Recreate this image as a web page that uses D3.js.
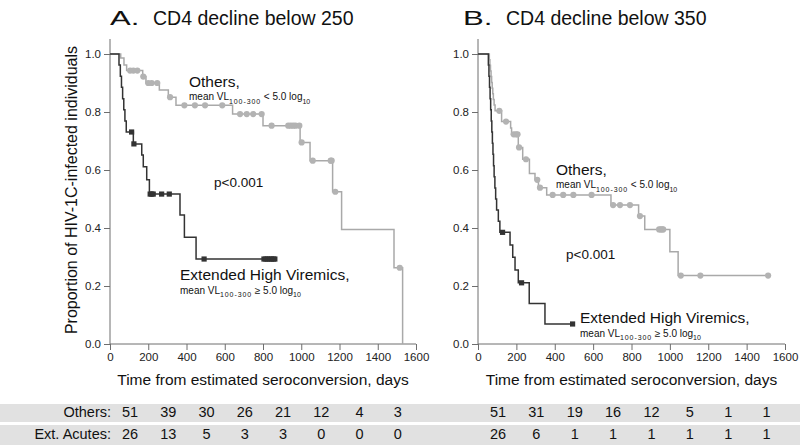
<!DOCTYPE html>
<html><head><meta charset="utf-8">
<script src="https://cdn.jsdelivr.net/npm/d3@7"></script>
<style>
body{margin:0;background:#fff}
svg{display:block;font-family:"Liberation Sans",Arial,Helvetica,sans-serif}
</style>
</head><body>
<svg id="chart" width="800" height="445"></svg>
<script>
// ---------- DATA ----------
const xTicks = [0, 200, 400, 600, 800, 1000, 1200, 1400, 1600];
const yTicks = [0, 0.2, 0.4, 0.6, 0.8, 1.0];
const riskTimes = [0, 200, 400, 600, 800, 1000, 1200, 1400];
const rowLabels = ["Others:", "Ext. Acutes:"];
const riskA_others = [51, 39, 30, 26, 21, 12, 4, 3];
const riskA_ext = [26, 13, 5, 3, 3, 0, 0, 0];
const riskB_others = [51, 31, 19, 16, 12, 5, 1, 1];
const riskB_ext = [26, 6, 1, 1, 1, 1, 1, 1];

// Panel A: CD4 decline below 250
const aOthersTimes = [56, 73, 87, 171, 188, 258, 305, 345, 641, 800, 994, 1046, 1164, 1211, 1485, 1530];
const aOthersSurv = [0.986, 0.962, 0.943, 0.922, 0.900, 0.876, 0.851, 0.823, 0.793, 0.753, 0.695, 0.632, 0.525, 0.395, 0.263, 0.0];
const aOthersCensored = [105, 122, 143, 174, 200, 218, 247, 314, 389, 444, 497, 587, 680, 715, 749, 793, 845, 932, 945, 958, 970, 990, 1002, 1060, 1154, 1159, 1178, 1515];
const aOthersEnd = 1530;

const aExtTimes = [47, 54, 60, 66, 72, 78, 85, 122, 166, 174, 192, 206, 366, 389, 450];
const aExtSurv = [0.962, 0.923, 0.885, 0.846, 0.808, 0.769, 0.731, 0.690, 0.652, 0.611, 0.566, 0.517, 0.445, 0.368, 0.293];
const aExtCensored = [113, 125, 210, 218, 226, 270, 310, 492, 805, 815, 825, 835, 845, 855, 862];
const aExtEnd = 862;

// Panel B: CD4 decline below 350
const bOthersTimes = [59, 62, 65, 68, 71, 74, 77, 80, 84, 89, 123, 170, 175, 210, 233, 268, 297, 315, 358, 693, 837, 869, 1000, 1043];
const bOthersSurv = [0.980, 0.961, 0.941, 0.922, 0.902, 0.882, 0.863, 0.843, 0.824, 0.804, 0.767, 0.745, 0.723, 0.678, 0.637, 0.588, 0.566, 0.539, 0.514, 0.479, 0.441, 0.395, 0.318, 0.236];
const bOthersCensored = [111, 146, 186, 198, 206, 214, 250, 309, 323, 389, 444, 497, 592, 704, 740, 792, 844, 944, 952, 960, 965, 1057, 1159, 1512];
const bOthersEnd = 1512;

const bExtTimes = [54, 57, 60, 63, 66, 69, 72, 75, 78, 81, 84, 88, 92, 97, 106, 114, 167, 181, 193, 210, 267, 349];
const bExtSurv = [0.962, 0.923, 0.885, 0.846, 0.808, 0.769, 0.731, 0.692, 0.654, 0.615, 0.577, 0.538, 0.500, 0.462, 0.423, 0.385, 0.341, 0.299, 0.255, 0.211, 0.140, 0.069];
const bExtCensored = [128, 227, 493];
const bExtEnd = 493;

// ---------- DRAWING ----------
const svg = d3.select("#chart");
const GRAY = "#a9a9a9", DARK = "#333333", AXIS = "#6e6e6e", TXT = "#111";
const yTop = 54, yBot = 344;

// table bands
svg.append("rect").attr("x", 0).attr("y", 404).attr("width", 800).attr("height", 18).attr("fill", "#e1e1e1");
svg.append("rect").attr("x", 0).attr("y", 425).attr("width", 800).attr("height", 20).attr("fill", "#e1e1e1");

rowLabels.forEach((lab, i) => {
  svg.append("text").attr("x", 111).attr("y", i === 0 ? 417 : 439)
    .attr("text-anchor", "end").attr("font-size", 14.5).attr("fill", TXT).text(lab);
});

const panels = [
  {x0: 110, x1: 416, letter: "A.", title: "CD4 decline below 250", titleX: 110,
   others: {t: aOthersTimes, s: aOthersSurv, c: aOthersCensored, end: aOthersEnd},
   ext: {t: aExtTimes, s: aExtSurv, c: aExtCensored, end: aExtEnd},
   risk: [riskA_others, riskA_ext],
   othersLbl: [189, 87], pLbl: [214, 187], extLbl: [180, 280]},
  {x0: 478, x1: 785, letter: "B.", title: "CD4 decline below 350", titleX: 463,
   others: {t: bOthersTimes, s: bOthersSurv, c: bOthersCensored, end: bOthersEnd},
   ext: {t: bExtTimes, s: bExtSurv, c: bExtCensored, end: bExtEnd},
   risk: [riskB_others, riskB_ext],
   othersLbl: [556, 175], pLbl: [566, 259], extLbl: [580, 323]}
];

function survAt(times, surv, t) {
  let s = 1;
  for (let i = 0; i < times.length; i++) if (times[i] <= t) s = surv[i];
  return s;
}

function subLine(g, x, y, rel, sym) {
  const t = g.append("text").attr("x", x).attr("y", y).attr("font-size", 10).attr("fill", TXT);
  t.append("tspan").text("mean VL");
  t.append("tspan").attr("font-size", 7).attr("dy", 3.5).attr("letter-spacing", 0.9).text("100-300");
  t.append("tspan").attr("dy", -3.5).text(" " + sym + " 5.0 log");
  t.append("tspan").attr("font-size", 7).attr("dy", 3.5).text("10");
}

panels.forEach(p => {
  const x = d3.scaleLinear().domain([0, 1600]).range([p.x0, p.x1]);
  const y = d3.scaleLinear().domain([0, 1]).range([yBot, yTop]);
  const g = svg.append("g");

  // title
  g.append("text").attr("transform", `translate(${p.titleX},25) scale(1.48,1)`)
    .attr("font-size", 21).attr("fill", TXT).text(p.letter);
  g.append("text").attr("x", p.titleX + 43).attr("y", 25).attr("font-size", 19.5)
    .attr("fill", TXT).text(p.title);

  // axes
  const ya = g.append("g").attr("transform", `translate(${p.x0},0)`)
    .call(d3.axisLeft(y).tickValues(yTicks).tickFormat(d3.format(".1f")).tickSize(6).tickPadding(3));
  const xa = g.append("g").attr("transform", `translate(0,${yBot})`)
    .call(d3.axisBottom(x).tickValues(xTicks).tickFormat(d3.format("d")).tickSize(6).tickPadding(3));
  [ya, xa].forEach(a => {
    a.select(".domain").remove();
    a.selectAll("line").attr("stroke", AXIS);
    a.selectAll("text").attr("font-size", 11.5).attr("fill", "#222")
      .attr("font-family", '"Liberation Sans",Arial,sans-serif');
  });
  g.append("line").attr("x1", p.x0).attr("x2", p.x0).attr("y1", 39).attr("y2", yBot).attr("stroke", AXIS);
  g.append("line").attr("x1", p.x0).attr("x2", p.x1).attr("y1", yBot).attr("y2", yBot).attr("stroke", AXIS);

  // axis labels
  g.append("text").attr("x", (p.x0 + p.x1) / 2).attr("y", 385).attr("text-anchor", "middle")
    .attr("font-size", 15.5).attr("fill", TXT).text("Time from estimated seroconversion, days");
  if (p.letter === "A.") {
    g.append("text").attr("transform", "translate(77,190) rotate(-90)").attr("text-anchor", "middle")
      .attr("font-size", 16).attr("fill", TXT).text("Proportion of HIV-1C-infected individuals");
  }

  const line = d3.line().x(d => x(d[0])).y(d => y(d[1])).curve(d3.curveStepAfter);
  function curve(c, color) {
    const pts = [[0, 1]];
    c.t.forEach((t, i) => pts.push([t, c.s[i]]));
    pts.push([c.end, c.s[c.s.length - 1]]);
    g.append("path").attr("d", line(pts)).attr("fill", "none").attr("stroke", color).attr("stroke-width", 1.5);
  }
  curve(p.others, GRAY);
  curve(p.ext, DARK);

  // censor marks
  g.selectAll(null).data(p.others.c).join("circle")
    .attr("cx", d => x(d)).attr("cy", d => y(survAt(p.others.t, p.others.s, d)))
    .attr("r", 3.1).attr("fill", "#b3b3b3");
  g.selectAll(null).data(p.ext.c).join("rect")
    .attr("x", d => x(d) - 2.6).attr("y", d => y(survAt(p.ext.t, p.ext.s, d)) - 2.6)
    .attr("width", 5.2).attr("height", 5.2).attr("fill", DARK);

  // annotations
  g.append("text").attr("x", p.othersLbl[0]).attr("y", p.othersLbl[1]).attr("font-size", 15.5).attr("fill", TXT).text("Others,");
  subLine(g, p.othersLbl[0], p.othersLbl[1] + 13, "lt", "<");
  g.append("text").attr("x", p.pLbl[0]).attr("y", p.pLbl[1]).attr("font-size", 13.5).attr("fill", TXT).text("p<0.001");
  g.append("text").attr("x", p.extLbl[0]).attr("y", p.extLbl[1]).attr("font-size", 15.5).attr("fill", TXT).text("Extended High Viremics,");
  subLine(g, p.extLbl[0], p.extLbl[1] + 13.5, "ge", "\u2265");

  // risk table
  p.risk.forEach((row, ri) => {
    g.selectAll(null).data(row).join("text")
      .attr("x", (d, i) => x(riskTimes[i]) + 20).attr("y", ri === 0 ? 417 : 439)
      .attr("text-anchor", "middle").attr("font-size", 14.5).attr("fill", TXT)
      .text(d => d);
  });
});
</script>
</body></html>
